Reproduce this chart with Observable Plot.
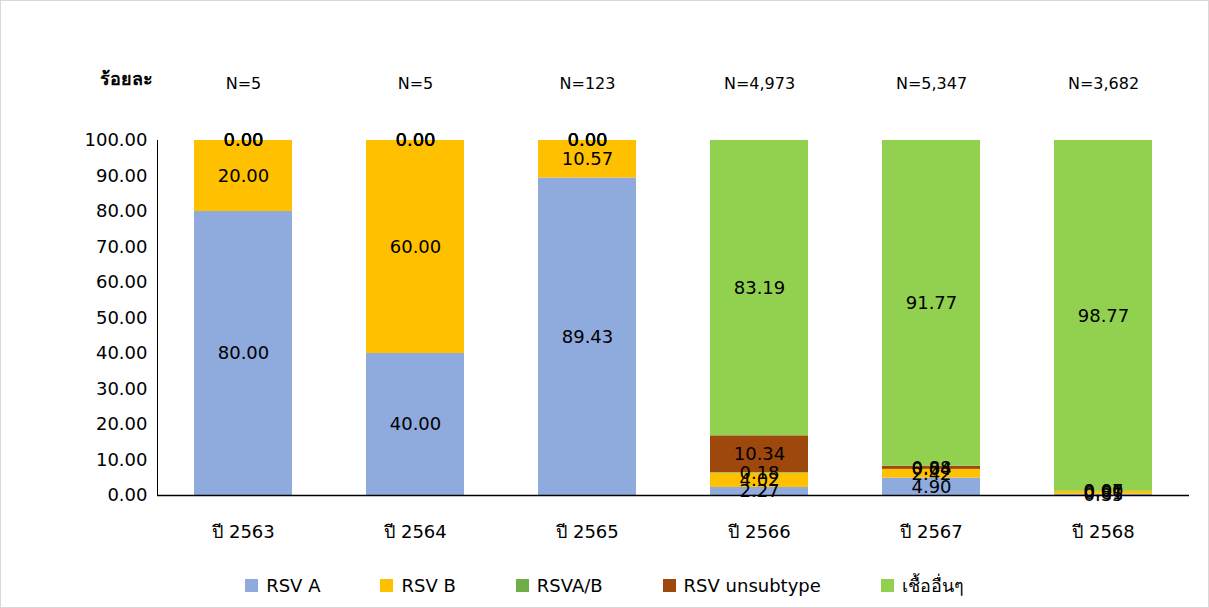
<!DOCTYPE html>
<html><head><meta charset="utf-8">
<script src="https://cdn.jsdelivr.net/npm/d3@7"></script>
<script src="https://cdn.jsdelivr.net/npm/@observablehq/plot@0.6"></script>
<style>
body{margin:0;background:#fff;font-family:Tahoma,"DejaVu Sans","Noto Sans",sans-serif;}
#wrap{position:relative;width:1207px;height:606px;border:1px solid #d9d9d9;overflow:hidden}
#legend{position:absolute;top:570px;left:0;width:1207px;display:flex;justify-content:center;gap:0;font-size:18px}
.li{display:flex;align-items:center;margin:0 30px}
.sw{width:13px;height:13px;margin-right:8px}
</style></head><body>
<div id="wrap"><div id="chart"></div><div id="legend"></div></div>
<script>
const years = ["ปี 2563","ปี 2564","ปี 2565","ปี 2566","ปี 2567","ปี 2568"];
const nLabels = ["N=5","N=5","N=123","N=4,973","N=5,347","N=3,682"];
const series = ["RSV A","RSV B","RSVA/B","RSV unsubtype","เชื้ออื่นๆ"];
const colors = ["#8faadc","#ffc000","#70ad47","#9e480e","#92d050"];
const rsvA = [80.00,40.00,89.43,2.27,4.90,0.35];
const rsvB = [20.00,60.00,10.57,4.02,2.42,0.81];
const rsvAB = [0.00,0.00,0.00,0.18,0.04,0.00];
const rsvUn = [0.00,0.00,0.00,10.34,0.88,0.07];
const other = [0.00,0.00,0.00,83.19,91.77,98.77];
const vals=[rsvA,rsvB,rsvAB,rsvUn,other];
const data=[];
years.forEach((y,i)=>series.forEach((s,j)=>data.push({year:y,series:s,value:vals[j][i]})));
const chart = Plot.plot({
  width:1207,height:565,marginLeft:156,marginRight:19,marginTop:139,marginBottom:71,
  style:{fontSize:"18px",fontFamily:"Tahoma,'DejaVu Sans',sans-serif",color:"#000"},
  x:{domain:years,paddingInner:0.43,paddingOuter:0.215,label:null,tickSize:0,tickPadding:30},
  y:{domain:[0,100],ticks:d3.range(0,101,10),tickFormat:d=>d.toFixed(2),label:null,tickSize:0,tickPadding:10,line:true},
  color:{domain:series,range:colors},
  marks:[
    Plot.barY(data,{x:"year",y:"value",fill:"series",z:"series"}),
    Plot.text(data,Plot.stackY({x:"year",y:"value",z:"series",text:d=>d.value.toFixed(2),fontSize:18,fill:"#000"})),
    Plot.ruleY([0],{stroke:"#000",strokeWidth:1.5}),
    Plot.text(years.map((y,i)=>({year:y,n:nLabels[i]})),{x:"year",text:"n",frameAnchor:"top",dy:-63,fontSize:16}),
    Plot.text(["ร้อยละ"],{frameAnchor:"top-left",dx:-58,dy:-68,fontSize:18,fontWeight:"bold",textAnchor:"start"})
  ]
});
document.getElementById("chart").append(chart);
const lg=document.getElementById("legend");
series.forEach((s,i)=>{lg.insertAdjacentHTML("beforeend",`<div class="li"><div class="sw" style="background:${colors[i]}"></div>${s}</div>`)});
</script></body></html>
